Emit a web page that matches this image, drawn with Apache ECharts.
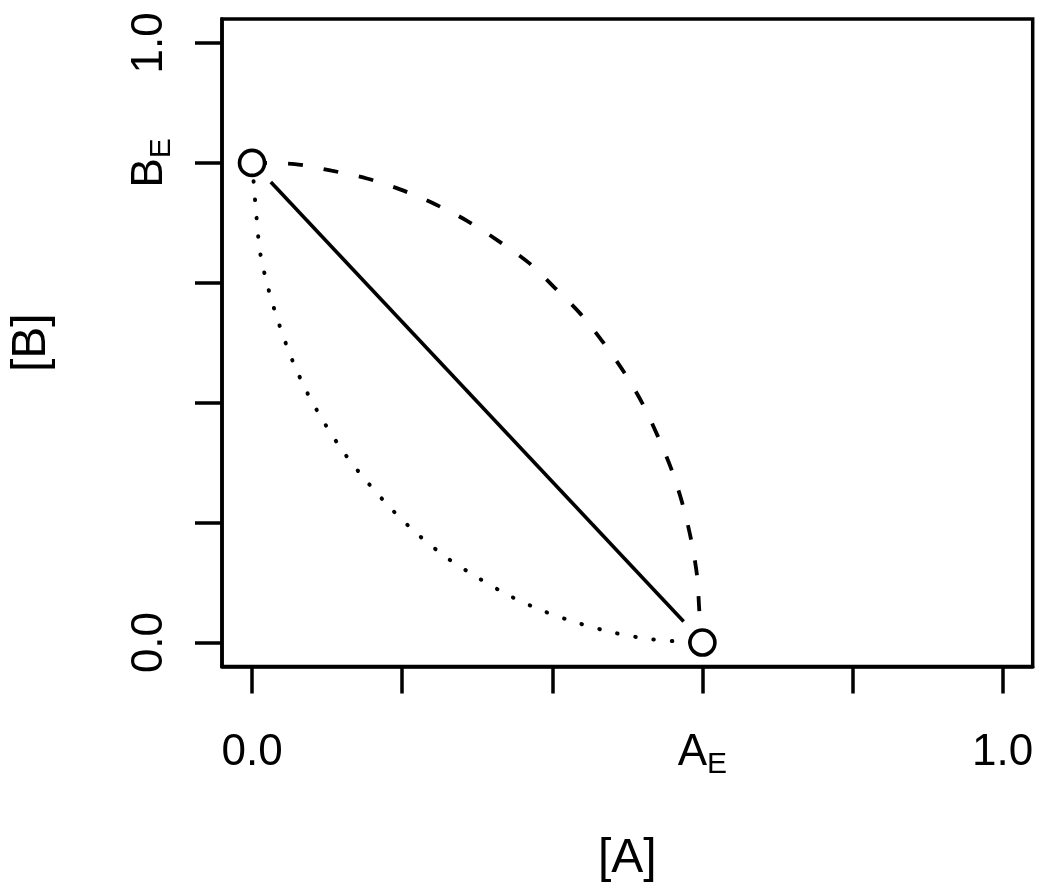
<!DOCTYPE html>
<html>
<head>
<meta charset="utf-8">
<script src="https://cdn.jsdelivr.net/npm/echarts@6/dist/echarts.min.js"></script>
<style>
  html, body { margin: 0; padding: 0; background: #ffffff; }
  #chart { width: 1050px; height: 891px; }
</style>
</head>
<body>
<div id="chart"></div>
<script>
// ---- data ----
const xTickValues = [0, 0.2, 0.4, 0.6, 0.8, 1.0];
const xTickLabels = ['0.0', '', '', 'A_E', '', '1.0'];
const yTickValues = [0, 0.2, 0.4, 0.6, 0.8, 1.0];
const yTickLabels = ['0.0', '', '', '', 'B_E', '1.0'];
const xTitle = '[A]';
const yTitle = '[B]';

// equilibrium points [A, B]
const endPoints = [[0, 0.8], [0.6, 0]];

// straight (solid) path, trimmed short of the circles
const solidPath = [[0.025, 0.768], [0.575, 0.035]];

// dashed curve (bulging up-right)
const dashedPath = [
  [0, 0.8], [0.057, 0.798], [0.106, 0.787], [0.153, 0.774], [0.199, 0.755],
  [0.244, 0.731], [0.287, 0.703], [0.328, 0.670], [0.368, 0.634], [0.403, 0.592],
  [0.437, 0.549], [0.467, 0.502], [0.495, 0.452], [0.520, 0.399], [0.541, 0.343],
  [0.559, 0.288], [0.574, 0.229], [0.585, 0.171], [0.593, 0.110], [0.596, 0.051],
  [0.6, 0]
];

// dotted curve (bulging down-left)
const dottedPath = [
  [0, 0.8], [0.002, 0.770], [0.006, 0.709], [0.011, 0.649], [0.022, 0.589],
  [0.036, 0.531], [0.053, 0.473], [0.073, 0.418], [0.097, 0.365], [0.124, 0.314],
  [0.154, 0.267], [0.187, 0.221], [0.222, 0.179], [0.260, 0.141], [0.301, 0.108],
  [0.343, 0.078], [0.387, 0.053], [0.433, 0.033], [0.480, 0.017], [0.528, 0.006],
  [0.576, 0.001], [0.6, 0]
];

// ---- chart ----
const FONT = '"Liberation Sans", Arial, Helvetica, sans-serif';

function makeFormatter(values, labels) {
  return function (v) {
    const i = values.findIndex(t => Math.abs(t - v) < 1e-9);
    const s = i < 0 ? '' : labels[i];
    if (!s) return '';
    if (s.indexOf('_') >= 0) {
      const parts = s.split('_');
      return '{m|' + parts[0] + '}{s|' + parts[1] + '}';
    }
    return '{m|' + s + '}';
  };
}

const richStyle = {
  m: { fontSize: 44, lineHeight: 43, fontFamily: FONT, color: '#000', padding: [0, 0, 6, 0], verticalAlign: 'top' },
  s: { fontSize: 30, lineHeight: 30, fontFamily: FONT, color: '#000', padding: [19, 0, 0, 0], verticalAlign: 'top' }
};

const chart = echarts.init(document.getElementById('chart'), null, { renderer: 'canvas' });

chart.setOption({
  animation: false,
  backgroundColor: '#ffffff',
  grid: {
    left: 221, right: 17.3, top: 19, bottom: 224.5,
    show: true, borderColor: '#000', borderWidth: 3.5, backgroundColor: 'transparent'
  },
  xAxis: {
    type: 'value', min: -0.04, max: 1.04,
    name: xTitle, nameLocation: 'middle', nameGap: 168,
    nameTextStyle: { fontSize: 48, lineHeight: 48, fontFamily: FONT, color: '#000' },
    axisLine: { show: true, onZero: false, lineStyle: { color: '#000', width: 3.5 } },
    axisTick: { show: true, length: 27, customValues: xTickValues, lineStyle: { color: '#000', width: 3.5 } },
    axisLabel: {
      show: true, customValues: xTickValues, margin: 64,
      formatter: makeFormatter(xTickValues, xTickLabels), rich: richStyle
    },
    splitLine: { show: false }
  },
  yAxis: {
    type: 'value', min: -0.04, max: 1.04,
    name: yTitle, nameLocation: 'middle', nameGap: 166, nameRotate: 90,
    nameTextStyle: { fontSize: 48, lineHeight: 48, fontFamily: FONT, color: '#000' },
    axisLine: { show: true, onZero: false, lineStyle: { color: '#000', width: 3.5 } },
    axisTick: { show: true, length: 27, customValues: yTickValues, lineStyle: { color: '#000', width: 3.5 } },
    axisLabel: {
      show: true, customValues: yTickValues, margin: 51, rotate: 90,
      formatter: makeFormatter(yTickValues, yTickLabels), rich: richStyle
    },
    splitLine: { show: false }
  },
  series: [
    {
      type: 'line', data: solidPath, symbol: 'none', z: 2,
      lineStyle: { color: '#000', width: 3.6, type: 'solid' }
    },
    {
      type: 'line', data: dashedPath, symbol: 'none', smooth: 0.3, z: 2,
      lineStyle: { color: '#000', width: 3.8, type: [15, 21], cap: 'butt' }
    },
    {
      type: 'line', data: dottedPath, symbol: 'none', smooth: 0.3, z: 2,
      lineStyle: { color: '#000', width: 4, type: [0.5, 17.9], cap: 'round' }
    },
    {
      type: 'scatter', data: endPoints, symbol: 'circle', symbolSize: 25, z: 5,
      itemStyle: { color: '#fff', borderColor: '#000', borderWidth: 3.6, opacity: 1 }
    }
  ]
});
</script>
</body>
</html>
